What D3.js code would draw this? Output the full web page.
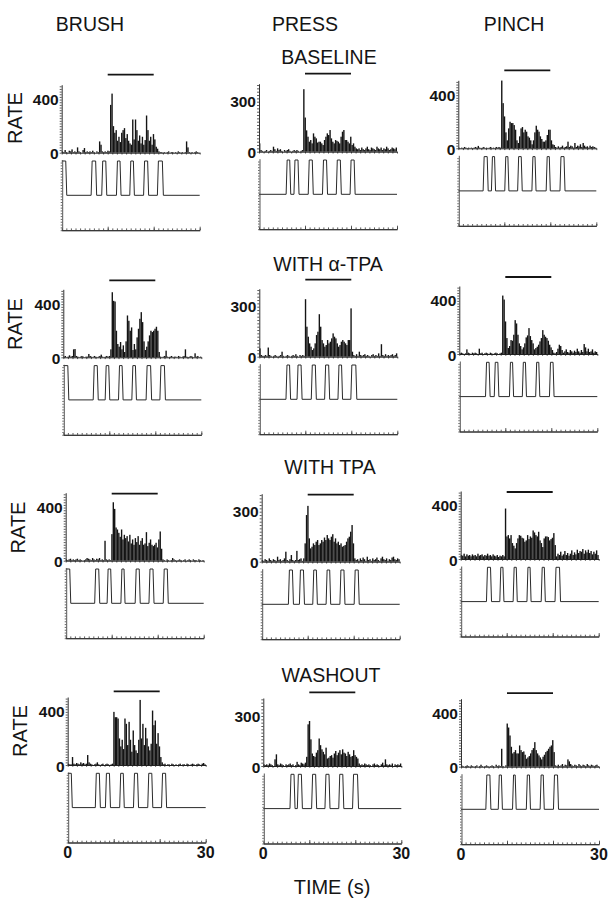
<!DOCTYPE html>
<html><head><meta charset="utf-8">
<script src="https://cdn.jsdelivr.net/npm/d3@7"></script>
<style>
html,body{margin:0;padding:0;background:#fff;}
svg{display:block;font-family:"Liberation Sans",Arial,Helvetica,sans-serif;}
</style></head><body>
<svg id="chart" width="616" height="899"></svg>
<script>
// ---------------- DATA ----------------
const stimulusTypes = ["BRUSH", "PRESS", "PINCH"];
const conditions = ["BASELINE", "WITH α-TPA", "WITH TPA", "WASHOUT"];
const binWidthSec = 0.3;            // histogram bin width (s)
const timeDomain = [0, 30];
const timeTickLabels = [0, 30];
const rateTickByColumn = [400, 300, 400];
const rateMaxByColumn = [512, 408, 512];
const stimulusWindow = [10, 20];    // horizontal bar above each histogram

// rate histograms (spikes/s), 100 bins of 0.3 s each
const brushBaseline = [10,5,20,5,0,15,10,25,5,10, 5,40,10,5,0,20,35,5,10,5, 10,5,15,5,0,10,5,85,60,10, 5,10,5,15,10,
 360,445,200,150,170,90,120,80,150,170,185,110,140,90,70,60,250,100,250,170,90,130,70,120,60,95,280,170,90,120,60,140,100,45,30,
 10,5,5,0,5,0,5,10,0,5, 5,0,5,0,10,5,0,5,0,5, 85,40,5,0,5,0,5,10,5,0];
const brushAlphaTPA = [5,10,0,5,15,5,10,60,62,10, 5,0,5,10,5,0,5,5,25,10, 5,0,10,5,0,5,10,20,5,0, 5,10,5,10,
 60,490,425,420,200,100,80,115,60,90,40,120,315,275,200,225,55,100,60,150,215,290,340,265,120,55,80,120,165,200,190,200,215,230,200,40,
 5,0,5,10,50,5,0,5,10,0, 5,5,0,10,5,0,5,10,60,5, 0,5,10,5,0,30,5,10,0,5];
const brushTPA = [10,5,10,15,5,10,5,10,15,5, 10,5,0,5,10,20,15,10,5,20, 10,5,15,10,20,5,10,5,150,10, 5,10,5,
 200,440,390,250,235,210,180,235,160,195,170,185,145,195,130,160,120,170,140,185,120,150,170,120,130,215,110,135,160,120,110,120,135,100,160,220,90,
 10,5,0,10,5,0,5,20,10,5, 0,5,10,5,0,5,10,0,5,10, 5,0,10,5,5,0,10,5,0,5];
const brushWashout = [10,5,5,60,10,5,15,10,5,20, 10,15,5,10,75,20,10,5,0,5, 10,20,5,0,5,10,0,5,10,5, 0,5,10,
 400,360,360,350,200,140,190,120,350,310,150,325,190,100,260,150,110,90,190,490,200,310,150,280,200,140,110,160,410,300,335,160,240,140,60,20,
 5,10,0,5,5,0,10,5,0,5, 0,5,10,0,5,5,0,10,5,0, 5,10,5,0,5,10,5,0,10,15,5];

const pressBaseline = [50,10,5,0,5,10,0,5,10,5, 30,15,5,20,10,15,5,0,10,5, 10,15,5,0,5,10,5,10,5,0, 5,10,
 375,205,128,90,60,70,50,110,90,80,55,60,60,50,40,70,90,110,100,130,80,60,50,70,65,60,50,90,120,130,70,70,60,50,90,40,50,30,20,
 15,20,10,25,15,10,20,30,15,10, 25,20,15,10,30,20,15,25,10,20, 15,30,20,10,15,25,20,15,25];
const pressAlphaTPA = [50,10,5,5,10,5,55,10,5,0, 5,10,5,0,5,10,30,5,0,5, 10,5,0,5,10,5,15,5,0,10, 5,10,5,
 345,180,120,80,60,40,50,80,130,150,255,180,100,80,60,70,100,80,90,110,140,120,110,80,60,70,90,100,90,80,70,100,100,290,30,
 10,5,15,5,30,10,5,10,15,5, 10,5,0,10,15,5,10,5,20,5, 75,10,5,15,5,10,5,10,15,5, 10,20];
const pressTPA = [10,5,15,10,5,20,10,5,15,10, 5,30,10,15,5,10,20,60,10,5, 15,40,10,5,10,65,10,15,20,5, 20,110,
 280,335,140,80,90,110,100,120,130,100,110,130,120,145,130,160,140,130,150,165,120,140,110,120,100,110,90,95,100,120,140,150,180,220,110,
 20,10,15,5,20,10,25,15,5,30, 10,15,5,20,10,15,25,10,5,20, 30,15,10,20,5,15,10,25,30,15, 10,20,15];
const pressWashout = [10,5,10,5,15,10,5,0,40,70, 10,5,15,10,5,0,10,5,10,15, 5,10,0,5,25,10,5,20,15,10, 20,
 55,250,270,160,75,60,55,80,95,165,125,100,85,70,110,45,50,60,65,50,75,90,65,80,95,70,100,80,75,60,85,70,55,60,95,65,55,45,
 15,5,10,5,15,10,5,10,5,0, 10,15,5,10,5,0,10,20,5,40, 10,5,10,5,15,0,10,5,10,5, 15];

const pinchBaseline = [5,0,5,0,10,5,0,5,0,5, 0,5,10,5,18,5,0,5,10,0, 5,0,5,10,0,5,0,10,5,10, 5,
 510,340,240,120,60,150,200,190,190,175,140,60,40,90,150,160,120,140,125,90,80,60,30,60,120,170,140,125,90,70,50,50,60,100,140,140,60,30,25,
 10,5,15,5,10,20,5,10,15,50, 10,20,15,5,40,10,20,15,30,10, 40,20,10,15,5,20,10,15,10,5];
const pinchAlphaTPA = [5,10,5,0,5,35,10,5,0,10, 5,10,5,0,40,5,10,0,5,10, 5,0,10,5,0,5,10,5,0,5, 10,
 440,410,245,120,45,60,105,100,145,255,230,145,80,60,35,50,80,125,140,195,135,105,80,35,45,55,70,95,120,180,145,130,120,100,70,50,30,
 10,5,15,40,70,60,30,10,20,35, 15,10,30,20,10,25,15,40,20,10, 30,15,75,50,20,40,15,20,35,10, 20,15];
const pinchTPA = [30,25,40,20,35,25,30,20,35,25, 30,20,40,25,30,35,20,30,25,40, 25,30,20,35,25,20,30,15,25,20, 30,20,
 380,170,180,155,180,120,100,80,120,155,180,175,160,155,130,140,180,150,170,160,215,200,180,170,205,140,120,90,155,170,170,165,140,150,160,195,105,
 20,40,30,55,25,35,60,30,45,25, 40,65,30,50,35,70,45,60,55,75, 40,65,50,70,45,60,35,55,40,65, 30];
const pinchWashout = [10,5,0,5,10,5,0,10,5,0, 5,10,0,5,15,5,0,5,10,5, 0,5,10,5,0,15,5,10,5,135, 5,0,10,
 325,295,235,150,100,110,125,100,100,160,125,110,115,90,60,70,80,100,125,140,185,125,100,85,70,55,75,90,110,120,135,150,160,200,110,
 10,5,15,5,10,20,5,15,10,55, 40,20,10,5,15,10,5,20,10,5, 15,10,5,20,10,5,15,10,5,10, 15,5];

// stimulus "on" intervals (s) for the trace under each histogram
const brushPulses = [
  [[0,1.1],[6.4,7.6],[8.7,9.8],[11.9,12.9],[14.8,15.8],[17.8,18.9],[20.8,22.1]],
  [[0,1.2],[6.5,7.6],[9.1,10.1],[12.0,13.0],[14.9,15.9],[18.0,19.2],[21.0,22.2]],
  [[0,1.1],[6.3,7.4],[9.0,10.0],[12.0,12.9],[15.1,16.2],[18.1,19.2],[21.2,22.3]],
  [[0,1.0],[6.0,7.1],[8.2,9.3],[11.3,12.3],[14.3,15.4],[17.4,18.5],[20.4,21.5]]];
const pressPulses = [
  [[5.9,6.9],[7.6,8.7],[10.7,11.8],[13.8,14.9],[16.8,17.9],[19.8,20.9]],
  [[5.8,6.8],[8.2,9.3],[11.3,12.4],[14.2,15.3],[17.1,18.1],[19.9,21.2]],
  [[5.8,6.9],[8.2,9.3],[11.1,12.1],[14.0,15.0],[17.0,18.1],[20.1,21.2]],
  [[5.8,6.9],[7.4,8.5],[10.5,11.6],[13.4,14.5],[16.4,17.5],[19.4,20.7]]];
const pinchPulses = [
  [[5.4,6.5],[7.2,8.1],[10.1,11.0],[12.9,13.9],[16.0,16.9],[19.1,20.0],[22.1,23.2]],
  [[5.7,6.7],[7.6,8.6],[10.9,11.8],[13.7,14.6],[16.6,17.5],[19.6,20.6]],
  [[5.6,6.7],[8.5,9.4],[11.4,12.3],[14.4,15.3],[17.5,18.4],[20.5,21.7]],
  [[5.4,6.5],[8.1,9.0],[11.2,12.0],[14.2,15.1],[17.2,18.1],[20.1,21.2]]];

const rates = [
  [brushBaseline, pressBaseline, pinchBaseline],
  [brushAlphaTPA, pressAlphaTPA, pinchAlphaTPA],
  [brushTPA, pressTPA, pinchTPA],
  [brushWashout, pressWashout, pinchWashout]];
const pulses = [brushPulses, pressPulses, pinchPulses];

// ---------------- LAYOUT ----------------
const panelX0 = [[61.7,259,458.3],[63.3,259.3,459.3],[65.7,261.7,460.7],[67.7,263.3,461]];
const panelBase = [[152.7,151.7,148.3],[357.3,356.7,354],[560.7,561.7,559],[765,766,766.7]];
const panelW = 138, histH = 68;
const stimHigh = 8.3, stimLow = 42.6, bottomAxisOff = 77.5, stimAxisTop = 7;
const barOffset = [78, 77, 67, 73.6];
const titleY = [57, 264, 467, 675];
const titleX = [329, 328, 330, 331];
const rateLabelPos = [[14.5,118],[15,324],[17.5,527.5],[19.5,731]];
const headerX = [90, 305, 514], headerY = 24;
const ramp = 0.22;
const ink = "#141414";

const svg = d3.select("#chart");

// column headers
svg.selectAll("text.header").data(stimulusTypes).join("text")
  .attr("class","header")
  .attr("x",(d,i)=>headerX[i]).attr("y",headerY)
  .attr("text-anchor","middle").attr("dominant-baseline","central")
  .attr("font-size",19.5).attr("fill",ink).text(d=>d);

// condition titles
svg.selectAll("text.cond").data(conditions).join("text")
  .attr("class","cond")
  .attr("x",(d,i)=>titleX[i]).attr("y",(d,i)=>titleY[i])
  .attr("text-anchor","middle").attr("dominant-baseline","central")
  .attr("font-size",19.5).attr("fill",ink).text(d=>d);

// RATE labels
rateLabelPos.forEach(([x,y])=>{
  svg.append("text").attr("transform",`translate(${x},${y}) rotate(-90)`)
    .attr("text-anchor","middle").attr("dominant-baseline","central")
    .attr("font-size",20).attr("fill",ink).text("RATE");
});

function styleAxis(g, color, w){
  g.selectAll(".domain").attr("stroke",color).attr("stroke-width",w);
  g.selectAll(".tick line").attr("stroke",color).attr("stroke-width",0.8);
  g.selectAll(".tick text").remove();
}

for (let r = 0; r < 4; r++) {
  for (let c = 0; c < 3; c++) {
    const x0 = panelX0[r][c], base = panelBase[r][c];
    const x = d3.scaleLinear().domain(timeDomain).range([x0, x0 + panelW]);
    const y = d3.scaleLinear().domain([0, rateMaxByColumn[c]]).range([base, base - histH]);
    const g = svg.append("g");
    const data = rates[r][c];

    // histogram bars
    g.append("g").selectAll("rect").data(data).join("rect")
      .attr("x",(d,i)=>x(i*binWidthSec))
      .attr("width",x(binWidthSec)-x(0))
      .attr("y",d=>y(Math.min(d,rateMaxByColumn[c])))
      .attr("height",d=>y(0)-y(Math.min(d,rateMaxByColumn[c])))
      .attr("fill",ink);

    // y axis (rate) with fine ticks
    const ya = g.append("g").attr("transform",`translate(${x0},0)`)
      .call(d3.axisLeft(y).tickValues(d3.range(0, rateMaxByColumn[c], 20)).tickSize(2).tickSizeOuter(0).tickFormat(""));
    styleAxis(ya, "#333", 1);
    // baseline axis with fine ticks
    const xa = g.append("g").attr("transform",`translate(0,${base})`)
      .call(d3.axisBottom(x).tickValues(d3.range(0,31,1)).tickSize(1.8).tickSizeOuter(0).tickFormat(""));
    styleAxis(xa, "#222", 1);

    // rate tick labels
    [0, rateTickByColumn[c]].forEach(v=>{
      g.append("text").attr("x",x0-3).attr("y",y(v)+ (v===0?1:0))
        .attr("text-anchor","end").attr("dominant-baseline","central")
        .attr("font-size",15.5).attr("font-weight","bold").attr("fill",ink).text(v);
    });

    // stimulus window bar
    g.append("line")
      .attr("x1",x(stimulusWindow[0])).attr("x2",x(stimulusWindow[1]))
      .attr("y1",base-barOffset[r]).attr("y2",base-barOffset[r])
      .attr("stroke",ink).attr("stroke-width",1.8);

    // stimulus trace
    const ys = d3.scaleLinear().domain([0,1]).range([base+stimLow, base+stimHigh]);
    const pts = [];
    const pl = pulses[c][r];
    pts.push([0, pl[0][0] === 0 ? 1 : 0]);
    pl.forEach(([a,b])=>{
      if (a > 0) { pts.push([a,0]); pts.push([a+ramp,1]); }
      pts.push([b-ramp,1]); pts.push([b,0]);
    });
    pts.push([timeDomain[1],0]);
    g.append("path").datum(pts)
      .attr("d", d3.line().x(d=>x(d[0])).y(d=>ys(d[1])))
      .attr("fill","none").attr("stroke","#2a2a2a").attr("stroke-width",1);

    // lower axes (vertical + time)
    const ysAxis = d3.scaleLinear().domain([0,1]).range([base+bottomAxisOff, base+stimAxisTop]);
    const la = g.append("g").attr("transform",`translate(${x0+0.5},0)`)
      .call(d3.axisLeft(ysAxis).tickValues(d3.range(0,1,0.04)).tickSize(1.5).tickSizeOuter(0).tickFormat(""));
    styleAxis(la, "#444", 0.9);
    const ba = g.append("g").attr("transform",`translate(0,${base+bottomAxisOff})`)
      .call(d3.axisTop(x).tickValues(d3.range(0,31,1)).tickSize(1.8).tickSizeOuter(0).tickFormat(""));
    styleAxis(ba, "#333", 1);
    const bm = g.append("g").attr("transform",`translate(0,${base+bottomAxisOff})`)
      .call(d3.axisTop(x).tickValues([10,20,30]).tickSize(3.5).tickSizeOuter(0).tickFormat(""));
    styleAxis(bm, "#333", 1);

    // time tick labels on bottom row
    if (r === 3) {
      timeTickLabels.forEach(v=>{
        g.append("text").attr("x",x(v)).attr("y",base+bottomAxisOff+10)
          .attr("text-anchor","middle").attr("dominant-baseline","central")
          .attr("font-size",16).attr("font-weight","bold").attr("fill",ink).text(v);
      });
    }
  }
}

// x-axis title
svg.append("text").attr("x",332).attr("y",887)
  .attr("text-anchor","middle").attr("dominant-baseline","central")
  .attr("font-size",20).attr("fill",ink).text("TIME (s)");
</script>
</body></html>
